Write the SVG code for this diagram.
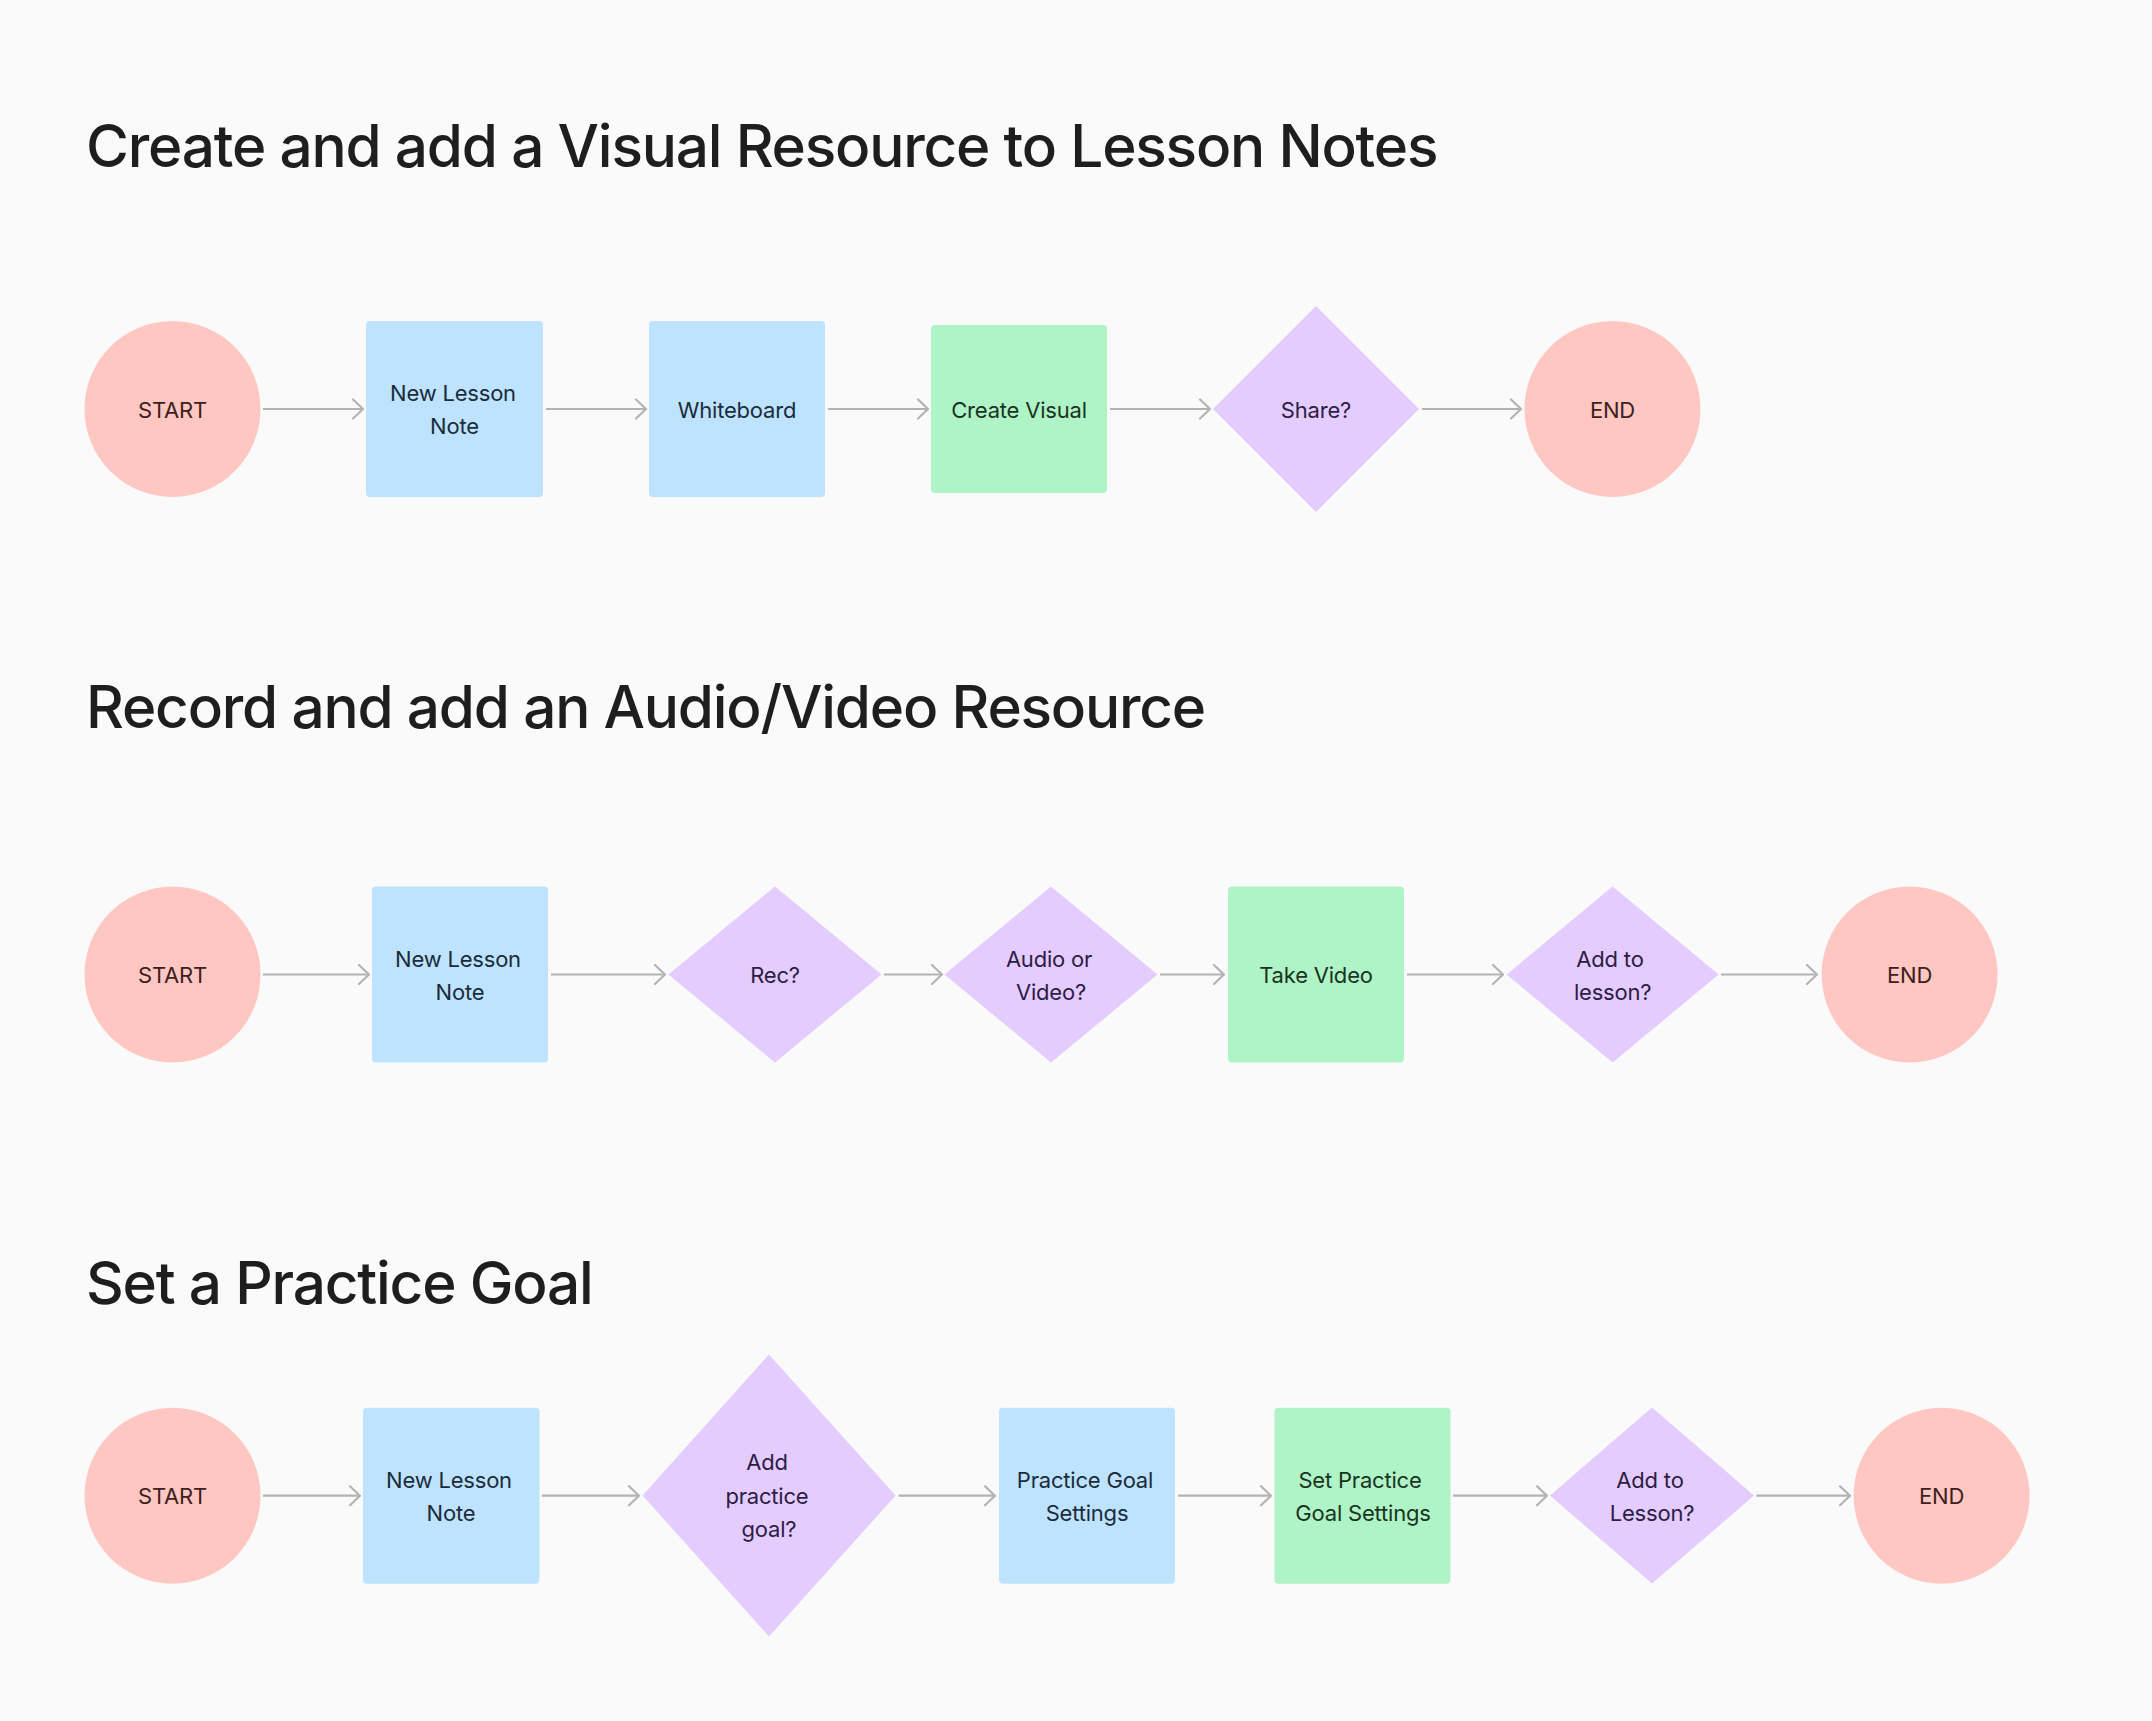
<svg xmlns="http://www.w3.org/2000/svg" width="2152" height="1721" viewBox="0 0 2152 1721">
<style>
.title{font-family:Inter,"Liberation Sans",sans-serif;font-size:58.5px;font-weight:500;fill:#1e1e1e;letter-spacing:-1.2px}
.lbl{font-family:Inter,"Liberation Sans",sans-serif;font-size:22px;text-anchor:middle;letter-spacing:-0.2px}
.term{fill:#ffc7c2}
.term-t{fill:#3d2020}
.proc{fill:#bde3ff}
.proc-t{fill:#1c2b3a}
.act{fill:#aff4c6}
.act-t{fill:#1a3322}
.dec{fill:#e4ccff}
.dec-t{fill:#2c1d45}
.conn line{stroke:#b3b3b3;stroke-width:2.2;marker-end:url(#arr)}
</style>
<defs>
<marker id="arr" viewBox="0 0 14 22" refX="12" refY="11" markerWidth="14" markerHeight="22" markerUnits="userSpaceOnUse" orient="auto">
<path d="M2,1.5 L12,11 L2,20.5" fill="none" stroke="#b3b3b3" stroke-width="2.2" stroke-linejoin="round" stroke-linecap="round"/>
</marker>
</defs>
<rect width="2152" height="1721" fill="#fafafa"/>

<text class="title" x="86" y="166.7">Create and add a Visual Resource to Lesson Notes</text>
<text class="title" x="86" y="728.3">Record and add an Audio/Video Resource</text>
<text class="title" x="86" y="1304.3">Set a Practice Goal</text>

<g class="conn">
<line x1="263" y1="409" x2="363" y2="409"/>
<line x1="546" y1="409" x2="646" y2="409"/>
<line x1="828" y1="409" x2="928" y2="409"/>
<line x1="1110" y1="409" x2="1210" y2="409"/>
<line x1="1422" y1="409" x2="1521" y2="409"/>

<line x1="263" y1="974.5" x2="369" y2="974.5"/>
<line x1="551" y1="974.5" x2="665" y2="974.5"/>
<line x1="884" y1="974.5" x2="942" y2="974.5"/>
<line x1="1160" y1="974.5" x2="1224" y2="974.5"/>
<line x1="1407" y1="974.5" x2="1503" y2="974.5"/>
<line x1="1721" y1="974.5" x2="1817" y2="974.5"/>

<line x1="263" y1="1495.7" x2="360" y2="1495.7"/>
<line x1="542" y1="1495.7" x2="639" y2="1495.7"/>
<line x1="898.6" y1="1495.7" x2="995" y2="1495.7"/>
<line x1="1178" y1="1495.7" x2="1271" y2="1495.7"/>
<line x1="1453" y1="1495.7" x2="1547" y2="1495.7"/>
<line x1="1756.4" y1="1495.7" x2="1850" y2="1495.7"/>
</g>

<!-- Row 1 -->
<g id="r1-start"><circle class="term" cx="172.5" cy="409" r="88"/><text class="lbl term-t" x="172.5" y="417.5">START</text></g>
<g id="r1-note"><rect class="proc" x="366" y="321" width="177" height="176" rx="4"/><text class="lbl proc-t" x="453" y="401">New Lesson</text><text class="lbl proc-t" x="454.5" y="434">Note</text></g>
<g id="r1-whiteboard"><rect class="proc" x="649" y="321" width="176" height="176" rx="4"/><text class="lbl proc-t" x="737" y="417.5">Whiteboard</text></g>
<g id="r1-create"><rect class="act" x="931" y="325" width="176" height="168" rx="4"/><text class="lbl act-t" x="1019" y="417.5">Create Visual</text></g>
<g id="r1-share"><polygon class="dec" points="1213,409 1316,306 1419,409 1316,512"/><text class="lbl dec-t" x="1316" y="417.5">Share?</text></g>
<g id="r1-end"><circle class="term" cx="1612.5" cy="409" r="88"/><text class="lbl term-t" x="1612.5" y="417.5">END</text></g>

<!-- Row 2 -->
<g id="r2-start"><circle class="term" cx="172.5" cy="974.5" r="88"/><text class="lbl term-t" x="172.5" y="983">START</text></g>
<g id="r2-note"><rect class="proc" x="372" y="886.5" width="176" height="176" rx="4"/><text class="lbl proc-t" x="458" y="966.5">New Lesson</text><text class="lbl proc-t" x="460" y="999.5">Note</text></g>
<g id="r2-rec"><polygon class="dec" points="668.5,974.5 775,886.5 881.5,974.5 775,1062.5"/><text class="lbl dec-t" x="775" y="983">Rec?</text></g>
<g id="r2-av"><polygon class="dec" points="944.5,974.5 1051,886.5 1157.5,974.5 1051,1062.5"/><text class="lbl dec-t" x="1049" y="966.5">Audio or</text><text class="lbl dec-t" x="1051" y="999.5">Video?</text></g>
<g id="r2-take"><rect class="act" x="1228" y="886.5" width="176" height="176" rx="4"/><text class="lbl act-t" x="1316" y="983">Take Video</text></g>
<g id="r2-add"><polygon class="dec" points="1506.6,974.5 1612.6,886.5 1718.6,974.5 1612.6,1062.5"/><text class="lbl dec-t" x="1610" y="966.5">Add to</text><text class="lbl dec-t" x="1612.6" y="999.5">lesson?</text></g>
<g id="r2-end"><circle class="term" cx="1909.6" cy="974.5" r="88"/><text class="lbl term-t" x="1909.6" y="983">END</text></g>

<!-- Row 3 -->
<g id="r3-start"><circle class="term" cx="172.5" cy="1495.7" r="88"/><text class="lbl term-t" x="172.5" y="1504.2">START</text></g>
<g id="r3-note"><rect class="proc" x="363" y="1407.7" width="176.5" height="176" rx="4"/><text class="lbl proc-t" x="449" y="1487.7">New Lesson</text><text class="lbl proc-t" x="451" y="1520.7">Note</text></g>
<g id="r3-addgoal"><polygon class="dec" points="642.6,1495.5 769,1354.5 895.6,1495.5 769,1636.5"/><text class="lbl dec-t" x="767" y="1470">Add</text><text class="lbl dec-t" x="767" y="1503.5">practice</text><text class="lbl dec-t" x="769" y="1537">goal?</text></g>
<g id="r3-pgs"><rect class="proc" x="999" y="1407.7" width="176" height="176" rx="4"/><text class="lbl proc-t" x="1085" y="1487.7">Practice Goal</text><text class="lbl proc-t" x="1087" y="1520.7">Settings</text></g>
<g id="r3-spgs"><rect class="act" x="1274.5" y="1407.7" width="176" height="176" rx="4"/><text class="lbl act-t" x="1360" y="1487.7">Set Practice</text><text class="lbl act-t" x="1363" y="1520.7">Goal Settings</text></g>
<g id="r3-addlesson"><polygon class="dec" points="1550,1495.5 1652,1407.5 1754,1495.5 1652,1583.5"/><text class="lbl dec-t" x="1650" y="1487.7">Add to</text><text class="lbl dec-t" x="1652" y="1520.7">Lesson?</text></g>
<g id="r3-end"><circle class="term" cx="1941.6" cy="1495.7" r="88"/><text class="lbl term-t" x="1941.6" y="1504.2">END</text></g>
</svg>
